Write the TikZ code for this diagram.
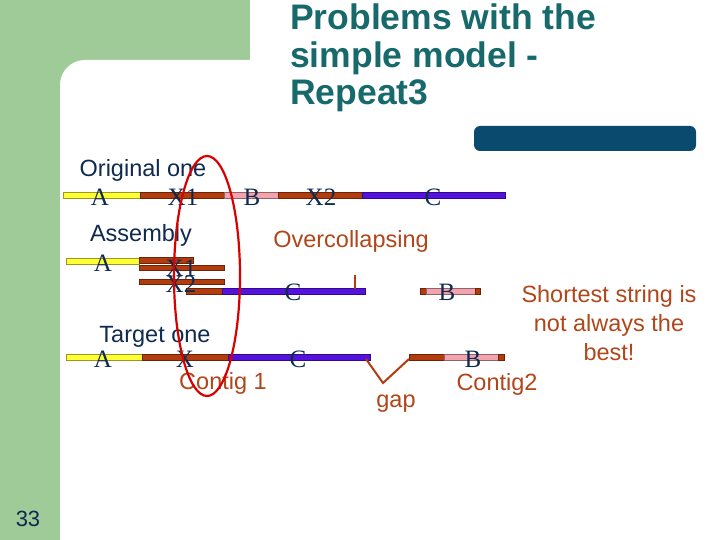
\documentclass[tikz,border=0pt]{standalone}
\usepackage{fontspec}
\setmainfont{Liberation Sans}
\newfontfamily\seriff{Liberation Serif}
\definecolor{bggreen}{HTML}{9FCB98}
\definecolor{titlec}{HTML}{17696B}
\definecolor{navy}{HTML}{0B4A6F}
\definecolor{ylw}{HTML}{FFFF33}
\definecolor{brn}{HTML}{B33C0E}
\definecolor{pnk}{HTML}{F2A3AD}
\definecolor{blu}{HTML}{5511DD}
\definecolor{txtb}{HTML}{0F2A50}
\definecolor{brtxt}{HTML}{B0461A}
\begin{document}
\begin{tikzpicture}[x=1pt,y=-1pt,
  seg/.style={draw=#1!60!black,fill=#1,line width=0.5pt},
  lab/.style={font=\seriff\fontsize{25}{25}\selectfont,text=txtb,inner sep=0},
  head/.style={font=\fontsize{23.5}{23.5}\selectfont,text=txtb,inner sep=0},
  brl/.style={font=\fontsize{23.5}{23.5}\selectfont,text=brtxt,inner sep=0}]
\useasboundingbox (0,0) rectangle (720,540);
\fill[bggreen] (0,0) rectangle (250,540);
\fill[white] (60,540) -- (60,85) arc[start angle=180,end angle=270,radius=25] -- (250,60) -- (250,0) -- (720,0) -- (720,540) -- cycle;
\fill[navy,rounded corners=6] (474,126) rectangle (696,151);
\node[font=\fontsize{35.5}{37.5}\selectfont\bfseries,text=titlec,align=left,anchor=north west,inner sep=0] (title) at (290,4) {Problems with the\\simple model -\\Repeat3};
\node[font=\fontsize{22}{22}\selectfont,text=txtb] (pg) at (28,519) {33};
% original
\fill[seg=ylw] (63,192) rectangle (140,198);
\fill[seg=brn] (140,192) rectangle (224,198);
\fill[seg=pnk] (224,192) rectangle (278,198);
\fill[seg=brn] (278,192) rectangle (362,198);
\fill[seg=blu] (362,192) rectangle (505,198);
\node[head] (o) at (143,170) {Original one};
\node[lab] (oa) at (100,197) {A};
\node[lab] (ox1) at (183,197) {X1};
\node[lab] (ob) at (252,197) {B};
\node[lab] (ox2) at (321,197) {X2};
\node[lab] (oc) at (433,197) {C};
% assembly
\node[head] (as) at (141,235) {Assembly};
\node[brl] (ov) at (351,241) {Overcollapsing};
\fill[seg=ylw] (66,258) rectangle (139,264);
\fill[seg=brn] (139,257) rectangle (193,263);
\fill[seg=brn] (139,265) rectangle (224,270);
\fill[seg=brn] (139,279) rectangle (224,284);
\fill[seg=brn] (186,288) rectangle (222,294);
\fill[seg=blu] (222,288) rectangle (365,294);
\fill[seg=brn] (420,288) rectangle (426,294);
\fill[seg=pnk] (426,288) rectangle (475,294);
\fill[seg=brn] (475,288) rectangle (480,294);
\draw[brn,line width=1.2pt] (355,275) -- (355,289);
\node[lab] (aa) at (103,263) {A};
\node[lab] (ax1) at (181,268) {X1};
\node[lab] (ax2) at (181,284) {X2};
\node[lab] (ac) at (293,292) {C};
\node[lab] (ab) at (447,292) {B};
% target
\node[head] (tg) at (155,337) {Target one};
\fill[seg=ylw] (66,354) rectangle (142,360);
\fill[seg=brn] (142,354) rectangle (228,360);
\fill[seg=blu] (228,354) rectangle (370,360);
\fill[seg=brn] (409,354) rectangle (444,360);
\fill[seg=pnk] (444,354) rectangle (498,360);
\fill[seg=brn] (498,354) rectangle (504,360);
\coordinate (g1) at (366,359);
\coordinate (g2) at (383,383);
\coordinate (g3) at (409,359);
\draw[brn,line width=2pt] (g1) -- (g2) -- (g3);
\node[lab] (ta) at (103,359) {A};
\node[lab] (tx) at (185,359) {X};
\node[lab] (tc) at (298,359) {C};
\node[lab] (tb) at (473,359) {B};
\node[brl] (c1) at (223,383) {Contig 1};
\node[brl] (gp) at (396,404) {gap};
\node[brl] (c2) at (497,384) {Contig2};
\node[brl,align=center,font=\fontsize{23.5}{29}\selectfont] (sh) at (609,323) {Shortest string is\\not always the\\best!};
\draw[red!85!black,line width=2.2pt] (207,276) ellipse[x radius=33,y radius=120];
\end{tikzpicture}
\end{document}
